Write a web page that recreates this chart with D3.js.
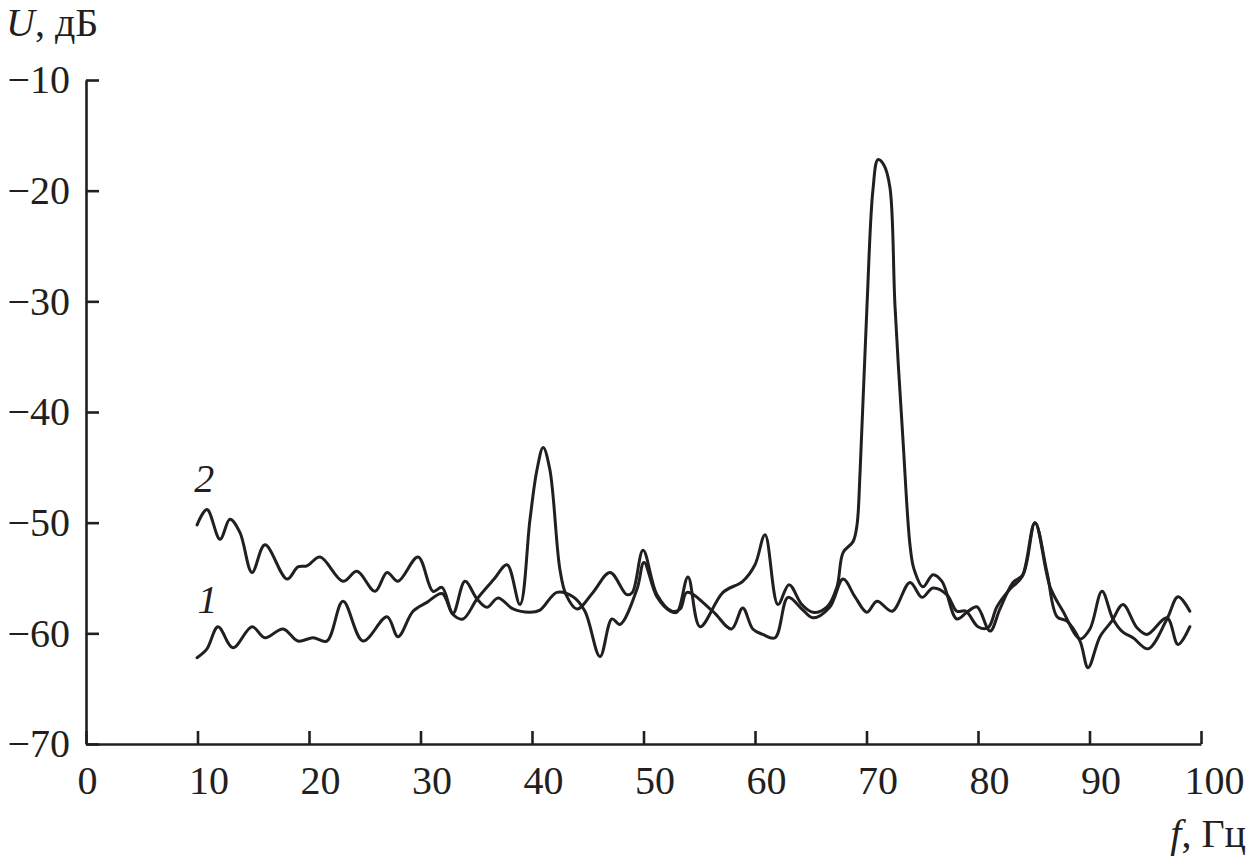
<!DOCTYPE html>
<html>
<head>
<meta charset="utf-8">
<script src="https://cdn.jsdelivr.net/npm/d3@7"></script>
<style>
  body { margin: 0; background: #fff; }
  text { fill: #231f20; }
</style>
</head>
<body>
<svg id="chart" width="1248" height="856"></svg>
<script>
// spectrum 1 (lower at start)
var f1 = [9.96, 10.85, 11.84, 13.18, 14.89, 16.05, 17.67, 19.01, 20.36, 21.6, 23.05, 24.84, 27.0, 27.98,
  29.33, 30.58, 31.93, 32.91, 33.81, 35.07, 36.6, 37.76, 38.92, 39.82, 40.45, 41.0, 41.6, 42.5, 43.05,
  44.04, 45.47, 47.0, 48.5, 49.0, 49.96, 51.2, 52.55, 53.3, 53.9, 56.2, 57.9, 58.9, 59.8, 60.7, 61.8,
  62.96, 64.2, 65.2, 66.7, 67.9, 68.97, 70.04, 70.94, 72.3, 73.9, 74.98, 75.96, 77.2, 78.1, 78.9, 80.0,
  80.9, 81.7, 82.87, 83.95, 85.11, 86.46, 87.62, 89.15, 90.04, 91.12, 92.1, 93.0, 93.9, 95.25, 96.95,
  97.94, 99.0];
var u1 = [-62.2, -61.4, -59.4, -61.3, -59.4, -60.4, -59.6, -60.7, -60.4, -60.7, -57.1, -60.7, -58.5, -60.3,
  -58.0, -57.2, -56.4, -58.3, -58.7, -56.9, -55.1, -53.8, -57.4, -49.7, -45.2, -43.2, -45.2, -54.2, -56.5,
  -57.8, -56.3, -54.5, -56.5, -56.3, -52.5, -56.5, -58.0, -57.8, -56.3, -58.0, -59.6, -57.7, -59.6, -60.1, -60.4,
  -56.75, -57.8, -58.6, -57.65, -55.1, -56.7, -58.1, -57.1, -58.0, -55.4, -56.75, -55.9, -56.5, -58.0, -58.0, -59.4,
  -59.5, -57.6, -56.0, -54.9, -50.0, -55.8, -58.0, -60.5, -59.6, -56.2, -58.7, -59.9, -60.4, -61.4, -58.7,
  -56.7, -58.0];

// spectrum 2 (upper at start)
var f2 = [9.96, 10.85, 12.02, 12.91, 13.81, 14.89, 16.05, 18.03, 19.01, 19.82, 20.99, 23.05, 24.3, 25.92,
  27.0, 27.98, 29.78, 31.12, 31.93, 32.91, 33.99, 35.07, 35.96, 36.95, 38.3, 39.82, 40.72, 42.24, 43.68,
  44.75, 46.1, 47.17, 47.89, 49.42, 50.04, 51.2, 52.4, 53.0, 53.99, 55.07, 57.13, 58.9, 60.0, 60.9, 62.06,
  63.05, 64.2, 65.2, 66.46, 67.35, 67.9, 68.8, 69.15, 69.42, 70.04, 70.58, 71.03, 71.57, 72.1, 72.56, 73.27,
  73.9, 74.26, 75.07, 75.96, 76.77, 78.1, 79.0, 79.9, 81.08, 81.97, 83.14, 84.04, 85.11, 86.19, 87.09,
  87.98, 89.15, 89.87, 90.94, 92.0, 93.0, 94.26, 95.16, 96.95, 97.94, 99.0];
var u2 = [-50.2, -48.8, -51.5, -49.7, -50.9, -54.5, -52.0, -55.1, -54.0, -53.9, -53.1, -55.3, -54.4, -56.2,
  -54.5, -55.3, -53.1, -56.2, -55.85, -58.2, -55.3, -56.9, -57.65, -56.8, -57.8, -58.1, -57.9, -56.3, -56.7,
  -58.0, -62.1, -58.7, -59.2, -56.0, -53.6, -56.7, -58.0, -58.1, -54.9, -59.4, -56.3, -55.3, -53.8, -51.1, -57.4,
  -55.6, -57.4, -58.1, -57.6, -55.8, -52.7, -51.7, -50.2, -45.5, -30.5, -19.9, -17.2, -17.7, -19.7, -30.5, -42.5,
  -52.0, -54.2, -55.8, -54.7, -55.3, -58.7, -58.1, -57.6, -59.8, -57.8, -55.4, -54.7, -50.0, -54.5, -58.5,
  -58.9, -60.7, -63.1, -60.3, -58.9, -57.4, -59.5, -60.1, -58.6, -61.0, -59.4];

var xTicks = [0, 10, 20, 30, 40, 50, 60, 70, 80, 90, 100];
var yTicks = [-70, -60, -50, -40, -30, -20, -10];
var yTickLabels = ["\u221270", "\u221260", "\u221250", "\u221240", "\u221230", "\u221220", "\u221210"];

var margin = {top: 80, right: 47, bottom: 112, left: 86},
  width = 1248 - margin.left - margin.right,
  height = 856 - margin.top - margin.bottom;

var serif = "'Liberation Serif', 'Times New Roman', serif";
var ink = "#231f20";

var svg = d3.select("#chart")
  .append("g")
  .attr("transform", "translate(" + margin.left + "," + margin.top + ")");

var x = d3.scaleLinear().domain([0, 100]).range([0, width]);
var y = d3.scaleLinear().domain([-70, -10]).range([height, 0]);

// axes, ticks point inward
var gx = svg.append("g")
  .attr("transform", "translate(0," + height + ")")
  .call(d3.axisBottom(x).tickValues(xTicks).tickSizeInner(-13).tickSizeOuter(0).tickPadding(22));

var gy = svg.append("g")
  .call(d3.axisLeft(y).tickValues(yTicks).tickSizeInner(-13).tickSizeOuter(0).tickPadding(16)
    .tickFormat(function(d, i) { return yTickLabels[i]; }));

[gx, gy].forEach(function(g) {
  g.attr("font-size", 40).attr("font-family", serif);
  g.selectAll("path, line").attr("stroke", ink).attr("stroke-width", 2.6);
  g.selectAll("text").attr("fill", ink);
});
gx.selectAll("text").attr("text-anchor", "start").attr("x", -9);
// last label would run off the page, pin its right end
gx.selectAll("text").filter(function(d) { return d === 100; })
  .attr("text-anchor", "end").attr("x", 1244 - margin.left - width);

// curves
var line = d3.line()
  .x(function(d) { return x(d[0]); })
  .y(function(d) { return y(d[1]); })
  .curve(d3.curveCatmullRom.alpha(0.5));

[[f1, u1], [f2, u2]].forEach(function(s) {
  svg.append("path")
    .datum(d3.zip(s[0], s[1]))
    .attr("fill", "none")
    .attr("stroke", ink)
    .attr("stroke-width", 3)
    .attr("stroke-linejoin", "round")
    .attr("stroke-linecap", "round")
    .attr("d", line);
});

// curve numbers
svg.append("text")
  .attr("x", x(9.7)).attr("y", y(-47.2))
  .style("font-family", serif).style("font-style", "italic").style("font-size", "40px")
  .text("2");
svg.append("text")
  .attr("x", x(10.0)).attr("y", y(-58.2))
  .style("font-family", serif).style("font-style", "italic").style("font-size", "40px")
  .text("1");

// axis titles
var yt = d3.select("#chart").append("text")
  .attr("x", 6).attr("y", 36)
  .style("font-family", serif).style("font-size", "40px");
yt.append("tspan").style("font-style", "italic").text("U");
yt.append("tspan").text(", дБ");

var xt = d3.select("#chart").append("text")
  .attr("x", 1246).attr("y", 847)
  .attr("text-anchor", "end")
  .style("font-family", serif).style("font-size", "40px");
xt.append("tspan").style("font-style", "italic").text("f");
xt.append("tspan").text(", Гц");
</script>
</body>
</html>
